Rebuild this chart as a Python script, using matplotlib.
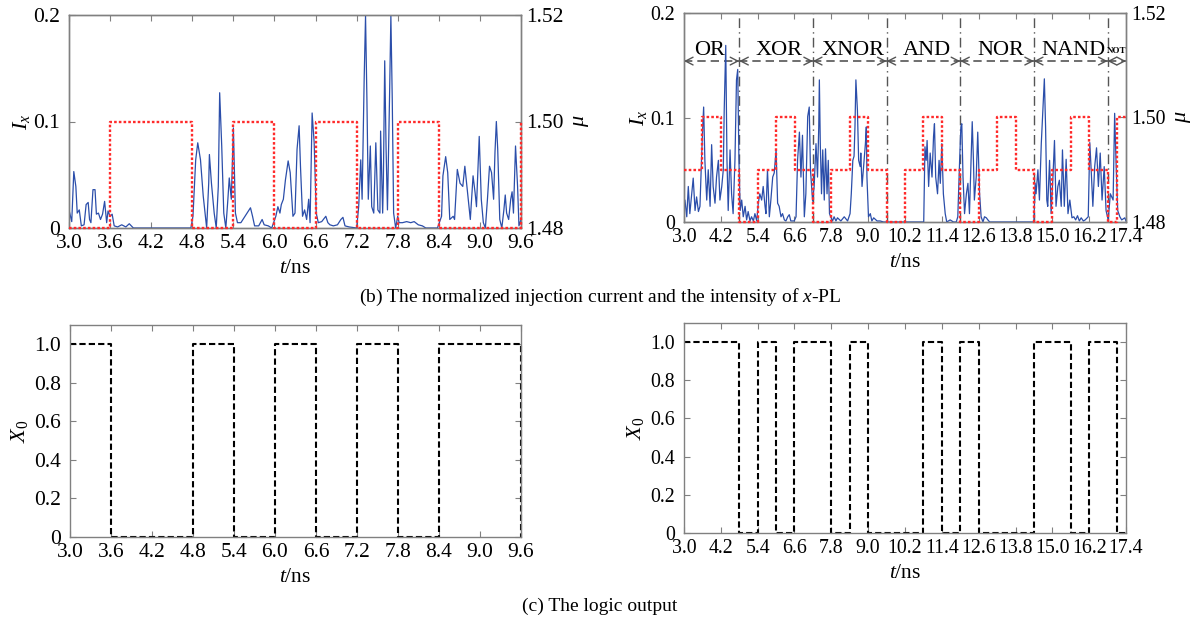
import matplotlib
matplotlib.use("Agg")
import matplotlib.pyplot as plt
import numpy as np

plt.rcParams['font.family'] = ['Liberation Serif', 'DejaVu Serif']
plt.rcParams['mathtext.fontset'] = 'custom'
plt.rcParams['mathtext.rm'] = 'Liberation Serif'
plt.rcParams['mathtext.it'] = 'Liberation Serif:italic'
plt.rcParams['font.size'] = 15.5

# ---------------- data ----------------
# left panel: intensity trace I_x
t_left = [3.00,3.04,3.07,3.10,3.12,3.15,3.18,3.22,3.25,3.28,3.30,3.32,3.35,3.38,3.40,3.43,3.46,3.49,3.52,3.55,
          3.57,3.60,3.63,3.66,3.71,3.77,3.83,3.88,3.94,4.78,4.81,4.85,4.88,4.92,4.96,5.01,5.04,5.05,5.08,5.12,
          5.15,5.18,5.20,5.23,5.26,5.29,5.32,5.34,5.37,5.40,5.43,5.46,5.51,5.57,5.63,5.65,5.68,5.71,5.77,5.82,
          5.85,5.91,5.96,6.02,6.05,6.08,6.10,6.13,6.16,6.20,6.23,6.27,6.30,6.33,6.36,6.38,6.41,6.44,6.47,6.50,
          6.52,6.55,6.58,6.61,6.64,6.69,6.75,6.78,6.81,6.86,6.92,6.97,7.00,7.03,7.09,7.20,7.23,7.26,7.28,7.31,
          7.33,7.35,7.37,7.40,7.42,7.45,7.48,7.51,7.54,7.55,7.58,7.59,7.61,7.63,7.65,7.68,7.70,7.72,7.74,7.77,
          7.80,7.82,7.87,7.93,7.99,8.04,8.10,8.16,8.21,8.38,8.44,8.46,8.50,8.53,8.56,8.61,8.63,8.67,8.71,8.75,
          8.78,8.82,8.86,8.90,8.93,8.95,8.99,9.02,9.05,9.08,9.11,9.14,9.17,9.20,9.22,9.24,9.26,9.29,9.32,9.35,
          9.37,9.39,9.42,9.45,9.47,9.49,9.52,9.55,9.57,9.60]
ix_left = [0.017,0.006,0.053,0.039,0.014,0.017,0.002,0.003,0.022,0.024,0.008,0.005,0.036,0.036,0.013,0.014,0.008,0.013,0.025,0.005,
           0.016,0.011,0.013,0.002,0.001,0.003,0.001,0.004,0.000,0.000,0.011,0.064,0.080,0.064,0.030,0.000,0.042,0.069,0.042,0.014,
           0.000,0.039,0.127,0.077,0.014,0.000,0.027,0.047,0.027,0.094,0.014,0.005,0.005,0.011,0.017,0.019,0.011,0.002,0.002,0.008,
           0.003,0.002,0.000,0.011,0.020,0.014,0.022,0.027,0.045,0.063,0.052,0.011,0.014,0.074,0.096,0.058,0.011,0.017,0.008,0.027,
           0.005,0.108,0.080,0.014,0.005,0.006,0.011,0.005,0.003,0.002,0.003,0.008,0.010,0.002,0.001,0.000,0.020,0.064,0.027,0.140,
           0.199,0.121,0.027,0.077,0.020,0.014,0.080,0.017,0.014,0.091,0.014,0.042,0.157,0.074,0.017,0.121,0.199,0.121,0.014,0.000,
           0.011,0.005,0.005,0.006,0.005,0.006,0.003,0.002,0.000,0.000,0.011,0.049,0.067,0.052,0.008,0.011,0.008,0.055,0.042,0.039,
           0.058,0.033,0.008,0.049,0.033,0.020,0.086,0.027,0.005,0.000,0.027,0.058,0.052,0.027,0.071,0.100,0.074,0.008,0.000,0.017,
           0.031,0.014,0.008,0.027,0.034,0.014,0.077,0.039,0.002,0.008]

# left panel: normalized injection current mu (step, value held from each edge)
mu_left_t = [3.0, 3.6, 4.8, 5.4, 6.0, 6.6, 7.2, 7.8, 8.4, 9.6]
mu_left_v = [1.48, 1.50, 1.48, 1.50, 1.48, 1.50, 1.48, 1.50, 1.48, 1.50]

# right panel: intensity trace I_x
t_right = [3.00,3.03,3.09,3.14,3.19,3.25,3.30,3.36,3.41,3.47,3.52,3.57,3.61,3.64,3.68,3.74,3.79,3.85,3.90,3.95,
           4.01,4.06,4.12,4.17,4.23,4.28,4.31,4.36,4.40,4.44,4.50,4.55,4.60,4.66,4.71,4.75,4.79,4.83,4.88,4.93,
           4.99,5.04,5.09,5.15,5.20,5.26,5.31,5.37,5.42,5.47,5.53,5.58,5.64,5.67,5.72,5.78,5.83,5.89,5.94,6.00,
           6.05,6.10,6.16,6.21,6.27,6.32,6.38,6.43,6.48,6.54,6.59,6.65,6.70,6.76,6.81,6.86,6.92,6.97,7.03,7.08,
           7.12,7.19,7.24,7.30,7.35,7.39,7.41,7.44,7.48,7.52,7.57,7.61,7.66,7.70,7.74,7.78,7.84,7.89,7.95,8.00,
           8.11,8.22,8.33,8.41,8.45,8.50,8.54,8.57,8.60,8.65,8.69,8.74,8.76,8.80,8.85,8.91,8.94,8.96,9.01,9.07,
           9.12,9.18,9.29,9.39,9.50,9.60,10.81,10.85,10.89,10.92,10.97,11.02,11.08,11.13,11.16,11.20,11.26,11.31,11.35,11.40,
           11.45,11.51,11.56,11.67,11.78,11.87,11.92,11.98,12.02,12.05,12.09,12.14,12.20,12.25,12.30,12.36,12.39,12.43,12.46,12.52,
           12.57,12.63,12.68,12.74,12.79,12.85,12.90,12.96,14.40,14.44,14.47,14.53,14.58,14.64,14.69,14.74,14.78,14.82,14.85,14.91,
           14.96,15.02,15.07,15.12,15.18,15.23,15.29,15.33,15.39,15.45,15.51,15.57,15.64,15.70,15.76,15.82,15.88,15.94,16.01,16.07,
           16.17,16.22,16.27,16.32,16.38,16.44,16.50,16.56,16.62,16.69,16.75,16.82,16.89,16.98,17.03,17.08,17.13,17.20,17.26,17.36,
           17.40]
ix_right = [0.015,0.021,0.005,0.034,0.008,0.027,0.042,0.011,0.024,0.010,0.015,0.059,0.091,0.110,0.059,0.021,0.050,0.015,0.074,0.034,
            0.018,0.043,0.059,0.021,0.034,0.050,0.107,0.169,0.059,0.011,0.069,0.027,0.008,0.059,0.136,0.146,0.059,0.011,0.021,0.005,
            0.015,0.002,0.010,0.001,0.005,0.001,0.008,0.001,0.018,0.027,0.021,0.034,0.015,0.008,0.050,0.005,0.021,0.043,0.047,0.069,
            0.018,0.015,0.005,0.008,0.002,0.001,0.005,0.007,0.001,0.001,0.001,0.005,0.059,0.086,0.043,0.083,0.005,0.027,0.101,0.110,
            0.050,0.020,0.034,0.075,0.043,0.091,0.136,0.075,0.027,0.069,0.021,0.070,0.027,0.059,0.008,0.005,0.001,0.005,0.001,0.004,
            0.001,0.005,0.001,0.008,0.027,0.059,0.063,0.091,0.136,0.107,0.059,0.053,0.066,0.034,0.053,0.075,0.091,0.043,0.005,0.008,
            0.001,0.004,0.001,0.001,0.000,0.000,0.000,0.072,0.059,0.078,0.034,0.066,0.043,0.082,0.094,0.043,0.027,0.059,0.037,0.075,
            0.027,0.008,0.000,0.002,0.000,0.000,0.005,0.059,0.091,0.094,0.043,0.008,0.027,0.037,0.008,0.066,0.096,0.059,0.021,0.043,
            0.086,0.027,0.005,0.000,0.005,0.004,0.002,0.000,0.000,0.037,0.027,0.050,0.021,0.075,0.107,0.137,0.091,0.021,0.015,0.059,
            0.008,0.043,0.078,0.015,0.034,0.040,0.015,0.069,0.015,0.060,0.008,0.021,0.004,0.005,0.002,0.006,0.001,0.004,0.001,0.002,
            0.005,0.076,0.047,0.015,0.053,0.071,0.034,0.066,0.021,0.053,0.011,0.002,0.027,0.021,0.104,0.053,0.011,0.005,0.002,0.004,
            0.001]

mu_right_t = [3.0, 3.6, 4.2, 4.8, 5.4, 6.0, 6.6, 7.2, 7.8, 8.4, 9.0, 9.6, 10.2, 10.8, 11.4, 12.0,
              12.6, 13.2, 13.8, 14.4, 15.0, 15.6, 16.2, 16.8, 17.1, 17.4]
mu_right_v = [1.49, 1.50, 1.49, 1.48, 1.49, 1.50, 1.49, 1.48, 1.49, 1.50, 1.49, 1.48, 1.49, 1.50, 1.49, 1.48,
              1.49, 1.50, 1.49, 1.48, 1.49, 1.50, 1.49, 1.48, 1.50, 1.50]

# gate regions (right panel)
gate_edges = [3.0, 4.8, 7.2, 9.6, 12.0, 14.4, 16.8, 17.4]
gate_names = ["OR", "XOR", "XNOR", "AND", "NOR", "NAND", "NOT"]
gate_label_t = [3.82, 6.08, 8.52, 10.92, 13.32, 15.68, 17.1]

# logic output X0
x0_left_t = [3.0, 3.6, 4.8, 5.4, 6.0, 6.6, 7.2, 7.8, 8.4, 9.6]
x0_left_v = [1, 0, 1, 0, 1, 0, 1, 0, 1, 0]
x0_right_t = [3.0, 4.8, 5.4, 6.0, 6.6, 7.8, 8.4, 9.0, 10.8, 11.4, 12.0, 12.6, 14.4, 15.6, 16.2, 17.1, 17.4]
x0_right_v = [1, 0, 1, 0, 1, 0, 1, 0, 1, 0, 1, 0, 1, 0, 1, 0, 0]

xt_left = [3.0, 3.6, 4.2, 4.8, 5.4, 6.0, 6.6, 7.2, 7.8, 8.4, 9.0, 9.6]
xt_left_lbl = ["3.0", "3.6", "4.2", "4.8", "5.4", "6.0", "6.6", "7.2", "7.8", "8.4", "9.0", "9.6"]
xt_right = [3.0, 4.2, 5.4, 6.6, 7.8, 9.0, 10.2, 11.4, 12.6, 13.8, 15.0, 16.2, 17.4]
xt_right_lbl = ["3.0", "4.2", "5.4", "6.6", "7.8", "9.0", "10.2", "11.4", "12.6", "13.8", "15.0", "16.2", "17.4"]
ix_ticks = [0, 0.1, 0.2]
ix_tick_lbl = ["0", "0.1", "0.2"]
mu_ticks = [1.48, 1.50, 1.52]
mu_tick_lbl = ["1.48", "1.50", "1.52"]
x0_ticks = [0, 0.2, 0.4, 0.6, 0.8, 1.0]
x0_tick_lbl = ["0", "0.2", "0.4", "0.6", "0.8", "1.0"]

BLUE = '#2b4eaa'
RED = '#ff2a2a'
SPINE = '#808080'
FS_L = 15.5
FS_R = 14.3

W, H = 1200, 627
fig = plt.figure(figsize=(12, 6.27), dpi=100)


def rect(l, t, r, b):
    return [l / W, 1 - b / H, (r - l) / W, (b - t) / H]


def style(ax, fs, right_ticks=True):
    for s in ax.spines.values():
        s.set_color(SPINE)
        s.set_linewidth(1.0)
    ax.tick_params(direction='in', length=4, width=0.8, color=SPINE, top=True, right=right_ticks,
                   labelsize=fs)
    ax.tick_params(axis='x', pad=4.5)
    ax.tick_params(axis='y', pad=6.5)


def top_panel(r, t, ix, mt, mv, xt, xtl, fs):
    ax = fig.add_axes(r)
    ax.plot(t, ix, color=BLUE, lw=0.9, zorder=3)
    ax.set_xlim(xt[0], xt[-1])
    ax.set_ylim(0, 0.2)
    ax.set_xticks(xt)
    ax.set_xticklabels(xtl)
    ax.set_yticks(ix_ticks)
    ax.set_yticklabels(ix_tick_lbl)
    ax.set_ylabel('$I_x$', labelpad=1, fontsize=16)
    ax.set_xlabel('$t$/ns', labelpad=4, fontsize=15.5)
    style(ax, fs, right_ticks=False)
    ax2 = ax.twinx()
    ax2.step(mt, mv, where='post', color=RED, lw=1.7, ls=(0, (1.1, 0.9)), zorder=4, clip_on=False)
    ax2.set_ylim(1.48, 1.52)
    ax2.set_yticks(mu_ticks)
    ax2.set_yticklabels(mu_tick_lbl)
    ax2.set_ylabel('μ', style='italic', labelpad=4, fontsize=16)
    style(ax2, fs)
    ax2.tick_params(left=False, top=False, bottom=False)
    ax2.tick_params(axis='y', pad=4)
    return ax, ax2


def bottom_panel(r, t, v, xt, xtl, fs):
    ax = fig.add_axes(r)
    ax.step(t, v, where='post', color='black', lw=1.5, ls=(0, (3, 1.5)), clip_on=False)
    ax.set_xlim(xt[0], xt[-1])
    ax.set_ylim(0, 1.1)
    ax.set_xticks(xt)
    ax.set_xticklabels(xtl)
    ax.set_yticks(x0_ticks)
    ax.set_yticklabels(x0_tick_lbl)
    ax.set_ylabel(r'$X_{\mathit{0}}$', labelpad=3, fontsize=16)
    ax.set_xlabel('$t$/ns', labelpad=4, fontsize=15.5)
    style(ax, fs)
    return ax


axL, axL2 = top_panel(rect(69, 15, 521, 228), t_left, ix_left, mu_left_t, mu_left_v,
                      xt_left, xt_left_lbl, FS_L)
axR, axR2 = top_panel(rect(684, 13, 1126, 222), t_right, ix_right, mu_right_t, mu_right_v,
                      xt_right, xt_right_lbl, FS_R)

# gate separators, arrows and labels
arrow_y = 0.154
for e in gate_edges[1:-1]:
    axR.axvline(e, color='#555555', lw=1.0, ls=(0, (7, 3, 1, 3)), zorder=2)
for i in range(len(gate_names)):
    a, b = gate_edges[i], gate_edges[i + 1]
    axR.plot([a, b], [arrow_y, arrow_y], color='#555555', lw=1.2, ls=(0, (5, 3)), zorder=2)
    for end, start in ((a, a + 0.12), (b, b - 0.12)):
        axR.annotate('', xy=(end, arrow_y), xytext=(start, arrow_y),
                     arrowprops=dict(arrowstyle='->,head_length=0.35,head_width=0.18',
                                     color='#555555', lw=1.0, shrinkA=0, shrinkB=0))
    if gate_names[i] == "NOT":
        axR.text(gate_label_t[i], 0.164, gate_names[i], fontsize=6.5, fontweight='bold',
                 ha='center', va='center')
    else:
        axR.text(gate_label_t[i], 0.164, gate_names[i], fontsize=16, ha='center', va='center')

bottom_panel(rect(70, 325, 521, 537), x0_left_t, x0_left_v, xt_left, xt_left_lbl, FS_L)
bottom_panel(rect(684, 323, 1126, 533), x0_right_t, x0_right_v, xt_right, xt_right_lbl, FS_R)

fig.text(0.5, 1 - 297 / H, '(b) The normalized injection current and the intensity of $x$-PL',
         ha='center', va='center', fontsize=14)
fig.text(0.5, 1 - 606 / H, '(c) The logic output', ha='center', va='center', fontsize=14)

fig.savefig('out.png', dpi=100)
